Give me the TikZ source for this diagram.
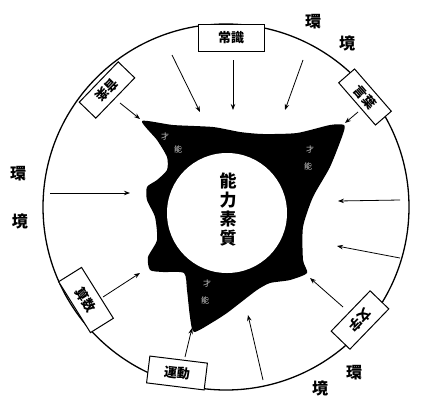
\documentclass[tikz,border=0pt]{standalone}
\usepackage{fontspec}
\newfontfamily\cjk{Noto Sans CJK JP}
\usetikzlibrary{arrows.meta}
\tikzset{
  lbl/.style={draw, fill=white, line width=1pt, font=\cjk\bfseries\fontsize{13}{13}\selectfont, minimum width=56pt, minimum height=23pt, inner sep=1pt},
  envc/.style={font=\cjk\bfseries\fontsize{16}{16}\selectfont, inner sep=0pt},
  core/.style={font=\cjk\bfseries\fontsize{17}{19}\selectfont, align=center, inner sep=0pt},
  smalltxt/.style={font=\cjk\fontsize{8}{8}\selectfont, text=white!80!black, inner sep=0pt},
  arr/.style={line width=0.8pt, -{Stealth[length=6pt,width=4.5pt]}}
}
\begin{document}
\begin{tikzpicture}[x=1pt,y=1pt]
\useasboundingbox (0,0) rectangle (422,-399);
\fill[white] (0,0) rectangle (422,-399);
% outer circle
\node[draw, circle, line width=1.3pt, minimum size=366pt, inner sep=0pt] (outer) at (226,-207) {};
% dark blob
\fill[black] plot[smooth cycle, tension=0.4] coordinates {
(142,-121) (173,-125) (213,-127) (240,-132) (263,-134) (297,-133) (330,-125) (344,-125) (343,-134)
(330,-167) (313,-197) (303,-227) (303,-260) (307,-273) (290,-280) (270,-283) (257,-290) (240,-303)
(227,-313) (213,-322) (194,-332) (190,-317) (187,-290) (184,-273) (163,-272) (150,-270) (148,-257)
(157,-240) (155,-217) (147,-200) (147,-187) (157,-180) (167,-170) (167,-157) (157,-140)};
% inner circle
\node[circle, fill=white, minimum size=120pt, inner sep=0pt] (inner) at (227,-213) {};
\node[core] (core) at (228,-210) {能\\力\\素\\質};
% small texts
\node[smalltxt] (t1a) at (165,-136) {才};
\node[smalltxt] (t1b) at (178,-149) {能};
\node[smalltxt] (t2a) at (310,-149) {才};
\node[smalltxt] (t2b) at (308,-166) {能};
\node[smalltxt] (t3a) at (207,-283) {才};
\node[smalltxt] (t3b) at (205,-300) {能};
% labels
\node[lbl, minimum width=66pt, minimum height=27pt] (jo) at (231,-38) {常識};
\node[lbl, rotate=226] (on) at (107,-90) {音楽};
\node[lbl, rotate=-49, minimum height=21pt] (ko) at (365,-97) {言葉};
\node[lbl, rotate=-58, minimum width=60pt, minimum height=27pt] (sa) at (86,-300) {算数};
\node[lbl, rotate=226, minimum height=26pt] (mo) at (360,-320) {文字};
\node[lbl, rotate=-7, minimum width=58pt, minimum height=27pt] (un) at (177,-373) {運動};
% environment
\node[envc] (k1) at (313,-22) {環};
\node[envc] (k2) at (347,-43) {境};
\node[envc] (k3) at (18,-174) {環};
\node[envc] (k4) at (20,-221) {境};
\node[envc] (k5) at (354,-373) {環};
\node[envc] (k6) at (320,-388) {境};
% arrows
\coordinate (s1) at (120,-103); \coordinate (e1) at (140,-119);
\coordinate (s2) at (172,-55);  \coordinate (e2) at (200,-112);
\coordinate (s3) at (233,-60);  \coordinate (e3) at (233,-110);
\coordinate (s4) at (303,-60);  \coordinate (e4) at (285,-110);
\coordinate (s5) at (358,-112); \coordinate (e5) at (345,-123);
\coordinate (s6) at (50,-193);  \coordinate (e6) at (130,-193);
\coordinate (s7) at (400,-200); \coordinate (e7) at (338,-201);
\coordinate (s8) at (400,-258); \coordinate (e8) at (337,-246);
\coordinate (s9) at (343,-307); \coordinate (e9) at (310,-278);
\coordinate (s10) at (103,-297); \coordinate (e10) at (140,-273);
\coordinate (s11) at (185,-357); \coordinate (e11) at (192,-328);
\coordinate (s12) at (263,-380); \coordinate (e12) at (248,-315);
\draw[arr] (s1) -- (e1);
\draw[arr] (s2) -- (e2);
\draw[arr] (s3) -- (e3);
\draw[arr] (s4) -- (e4);
\draw[arr] (s5) -- (e5);
\draw[arr] (s6) -- (e6);
\draw[arr] (s7) -- (e7);
\draw[arr] (s8) -- (e8);
\draw[arr] (s9) -- (e9);
\draw[arr] (s10) -- (e10);
\draw[arr] (s11) -- (e11);
\draw[arr] (s12) -- (e12);
\end{tikzpicture}
\end{document}
